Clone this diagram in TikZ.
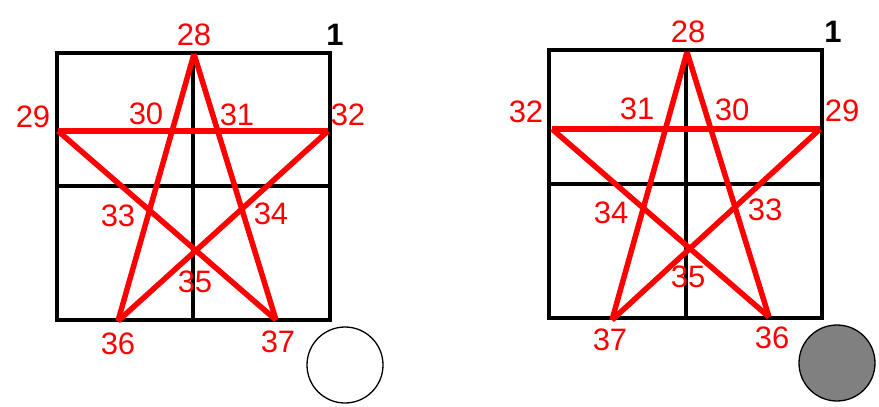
\documentclass[tikz,border=0pt]{standalone}
\usepackage{fontspec}
\setmainfont{Liberation Sans}
\begin{document}
\begin{tikzpicture}[x=1pt,y=-1pt]
        \tikzset{grid/.style={draw,line width=3.8pt}}
        \tikzset{star/.style={draw=red,line width=5.5pt}}
        \tikzset{num/.style={text=red,inner sep=0pt,font=\fontsize{31}{31}\selectfont}}
        \tikzset{corner/.style={inner sep=0pt,font=\bfseries\fontsize{31}{31}\selectfont}}
        \tikzset{disc/.style={circle,draw,line width=1.3pt,minimum size=76pt,inner sep=0pt}}
        \useasboundingbox (0,0) rectangle (879,407);

        % left panel
        \draw[grid] (57,53) rectangle (330,320);
        \draw[grid] (193,53) -- (193,320);
        \draw[grid] (57,186) -- (330,186);

        \coordinate (l28) at (194,54);
        \coordinate (l29) at (58,131);
        \coordinate (l32) at (328,131);
        \coordinate (l36) at (118,321);
        \coordinate (l37) at (276,320);

        \foreach \a/\b in {28/36,36/32,32/29,29/37,37/28} {
            \draw[star] (l\a) -- (l\b);
        }

        \node[num] (n28) at (194,35) {28};
        \node[num] (n29) at (33,117) {29};
        \node[num] (n30) at (146,114) {30};
        \node[num] (n31) at (237,115) {31};
        \node[num] (n32) at (348,115) {32};
        \node[num] (n33) at (118,216) {33};
        \node[num] (n34) at (271,214) {34};
        \node[num] (n35) at (195,282) {35};
        \node[num] (n36) at (118,344) {36};
        \node[num] (n37) at (278,342) {37};
        \node[corner] (one-l) at (335,35) {1};
        \node[disc,fill=white] (ball-l) at (345,365) {};

        % right panel
        \draw[grid] (549,50) rectangle (822,318);
        \draw[grid] (686,50) -- (686,318);
        \draw[grid] (549,184) -- (822,184);

        \coordinate (r28) at (687,52);
        \coordinate (r32) at (552,129);
        \coordinate (r29) at (820,129);
        \coordinate (r37) at (612,320);
        \coordinate (r36) at (769,317);

        \foreach \a/\b in {28/37,37/29,29/32,32/36,36/28} {
            \draw[star] (r\a) -- (r\b);
        }

        \node[num] (m28) at (688,32) {28};
        \node[num] (m32) at (526,112) {32};
        \node[num] (m31) at (637,109) {31};
        \node[num] (m30) at (732,110) {30};
        \node[num] (m29) at (842,111) {29};
        \node[num] (m34) at (611,213) {34};
        \node[num] (m33) at (765,210) {33};
        \node[num] (m35) at (688,277) {35};
        \node[num] (m37) at (610,340) {37};
        \node[num] (m36) at (772,338) {36};
        \node[corner] (one-r) at (833,32) {1};
        \node[disc,fill=black!50] (ball-r) at (837,363) {};
\end{tikzpicture}
\end{document}
